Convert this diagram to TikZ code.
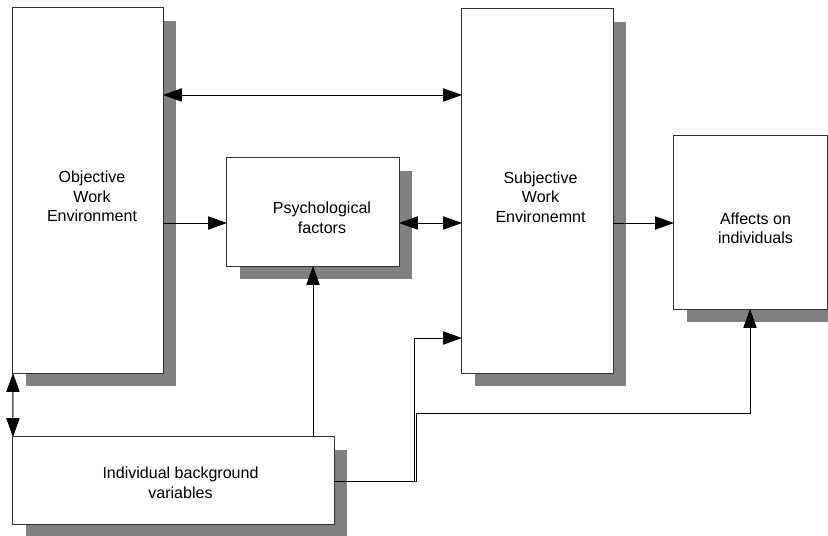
\documentclass[tikz,border=0pt]{standalone}
\usepackage{fontspec}
\setmainfont{Liberation Sans}
\usetikzlibrary{arrows.meta,shadows}

\begin{document}
\begin{tikzpicture}[x=0.025cm, y=-0.025cm, line width=0.7pt,
    >={Triangle[length=0.47cm,width=0.33cm]},
    box/.style={draw=black!80, fill=white, inner sep=0pt, outer sep=0pt,
        drop shadow={shadow xshift=0.325cm, shadow yshift=-0.325cm, fill=black!50, opacity=1}},
    lab/.style={align=center, inner sep=0pt, font=\fontsize{11.4}{13.9}\selectfont}]
    \useasboundingbox (0,0) rectangle (828,536);
    \node[box, minimum width=3.75cm, minimum height=9.125cm,
        label={[lab, shift={(4,6)}]center:{Objective\\Work\\Environment}}] (obj) at (88,190.5) {};
    \node[box, minimum width=4.3cm, minimum height=2.7cm,
        label={[lab, shift={(9,6)}]center:{Psychological\\factors}}] (psych) at (313,212) {};
    \node[box, minimum width=3.775cm, minimum height=9.1cm,
        label={[lab, shift={(3,6)}]center:{Subjective\\Work\\Environemnt}}] (subj) at (537.5,191) {};
    \node[box, minimum width=3.825cm, minimum height=4.325cm,
        label={[lab, shift={(5,6)}]center:{Affects on\\individuals}}] (aff) at (750.5,222.5) {};
    \node[box, minimum width=8.025cm, minimum height=2.175cm,
        label={[lab, shift={(7,2)}]center:{Individual background\\variables}}] (indiv) at (173.5,480.5) {};
    \draw[<->] (obj.east |- 0,95) -- (subj.west |- 0,95);
    \draw[->] (obj.east |- 0,223) -- (psych.west |- 0,223);
    \draw[<->] (psych.east |- 0,223) -- (subj.west |- 0,223);
    \draw[->] (subj.east |- 0,223) -- (aff.west |- 0,223);
    \draw[<->] (obj.south west) -- (indiv.north west);
    \draw[->] (indiv.north -| 313,0) -- (psych.south -| 313,0);
    \draw[->] (indiv.east |- 0,481) -- (414,481) -- (414,338) -- (subj.west |- 0,338);
    \draw[->] (indiv.east |- 0,481) -- (416,481) -- (416,413) -- (750,413) -- (aff.south -| 750,0);
\end{tikzpicture}
\end{document}
